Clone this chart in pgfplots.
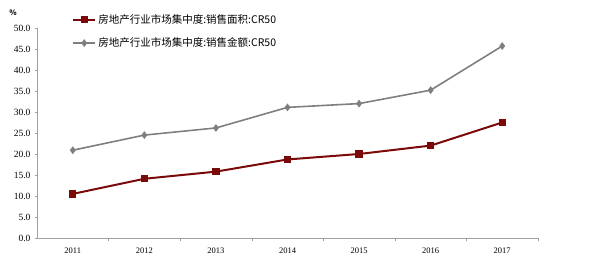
\documentclass[border=0pt]{standalone}
\usepackage{pgfplots}
\pgfplotsset{compat=1.18}
\usepackage{fontspec}
\setmainfont{Liberation Serif}
\newfontfamily\cjk{Noto Sans CJK SC}
\definecolor{cred}{HTML}{7A0A0A}
\definecolor{cgray}{HTML}{7F7F7F}
\definecolor{caxis}{HTML}{A0A0A0}
\begin{document}
\begin{tikzpicture}[x=1pt,y=1pt]
\path[use as bounding box] (0,0) rectangle (600,261);
\begin{axis}[
  at={(37pt,23pt)}, anchor=south west,
  width=501pt, height=210pt, scale only axis,
  xmin=-0.5, xmax=6.5, ymin=0, ymax=50,
  axis lines=left, axis line style={caxis, -},
  xtick={0,...,6}, xticklabels={2011,2012,2013,2014,2015,2016,2017},
  major x tick style={draw=none},
  minor xtick={0.5,1.5,2.5,3.5,4.5,5.5,6.5},
  minor x tick style={caxis},
  minor tick length=3pt,
  ytick={0,5,...,50},
  major y tick style={caxis},
  tick align=outside, major tick length=2pt,
  /pgf/number format/assume math mode=true,
  yticklabel style={/pgf/number format/.cd, fixed, fixed zerofill, precision=1, /tikz/.cd, font=\fontsize{9.5}{11}\selectfont, xshift=-1pt},
  xticklabel style={yshift=-4pt, font=\fontsize{8.5}{10}\selectfont},
  clip=false,
  legend style={draw=none, fill=none, at={(rel axis cs:0.07,1.075)}, anchor=north west,
    font=\cjk\fontsize{10.5}{12}\selectfont, row sep=9pt, inner sep=0pt},
  legend cell align=left,
  legend image code/.code={
    \draw[mark repeat=2,mark phase=2,#1] plot coordinates {(0pt,0pt) (11pt,0pt) (22pt,0pt)};},
]
\addplot[cred, line width=2pt, mark=square*, mark size=2.7pt] coordinates {
(0,10.5) (1,14.1) (2,15.8) (3,18.7) (4,20.0) (5,22.0) (6,27.5)};
\addlegendentry{房地产行业市场集中度:销售面积:CR50}
\addplot[cgray, line width=1.6pt, mark=diamond*, mark size=2.6pt] coordinates {
(0,20.9) (1,24.5) (2,26.2) (3,31.1) (4,32.0) (5,35.2) (6,45.7)};
\addlegendentry{房地产行业市场集中度:销售金额:CR50}
\end{axis}
\node[font=\cjk\bfseries\fontsize{7.5}{8}\selectfont, anchor=center] at (13,248) {\%};
\end{tikzpicture}
\end{document}
